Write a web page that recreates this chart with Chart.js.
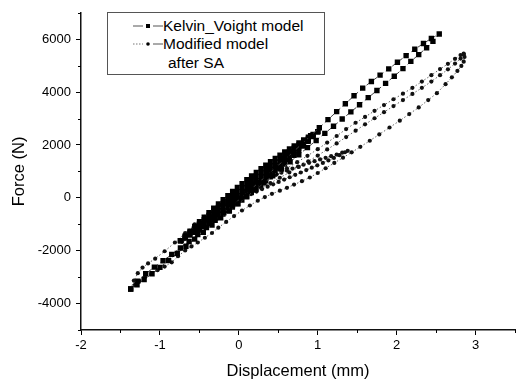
<!DOCTYPE html>
<html><head><meta charset="utf-8">
<script src="https://cdn.jsdelivr.net/npm/chart.js@4.4.0/dist/chart.umd.min.js"></script>
<style>
html,body{margin:0;padding:0;background:#fff;}
#wrap{position:relative;width:523px;height:382px;overflow:hidden;}
canvas{position:absolute;left:0;top:0;}
#legend{position:absolute;left:107px;top:12px;width:218px;height:63px;border:1px solid #555;box-sizing:border-box;background:#fff;font-family:"Liberation Sans",Arial,sans-serif;font-size:15.5px;color:#000;}
.row{position:absolute;height:18px;line-height:18px;white-space:nowrap;}
.smp{position:absolute;left:24px;width:32px;height:8px;}
</style></head>
<body><div id="wrap"><canvas id="c" width="523" height="382"></canvas>
<div id="legend">
 <svg class="smp" style="top:9px" width="32" height="8" viewBox="0 0 32 8"><line x1="1" y1="4" x2="11" y2="4" stroke="#555" stroke-width="1"/><rect x="14" y="2" width="4" height="4" fill="#000"/><line x1="21" y1="4" x2="31" y2="4" stroke="#555" stroke-width="1"/></svg>
 <div class="row" style="left:55px;top:4px">Kelvin_Voight model</div>
 <svg class="smp" style="top:27px" width="32" height="8" viewBox="0 0 32 8"><line x1="1" y1="4" x2="11" y2="4" stroke="#777" stroke-width="1" stroke-dasharray="1.5,1.5"/><circle cx="16" cy="4" r="1.8" fill="#000"/><line x1="21" y1="4" x2="31" y2="4" stroke="#555" stroke-width="1"/></svg>
 <div class="row" style="left:55px;top:22px">Modified model</div>
 <div class="row" style="left:60px;top:41px">after SA</div>
</div></div>
<script>
// ---- Kelvin_Voight model, large loop ----
const kvLargeUpX = [-1.37,-1.28,-1.18,-1.07,-0.96,-0.85,-0.74,-0.63,-0.52,-0.41,-0.30,-0.19,-0.08,0.03,0.14,0.25,0.36,0.47,0.58,0.69,0.80,0.91,1.02,1.13,1.24,1.35,1.46,1.57,1.68,1.79,1.90,2.01,2.12,2.23,2.34,2.44,2.54];
const kvLargeUpY = [-3450,-3150,-2870,-2620,-2380,-2140,-1900,-1650,-1390,-1120,-850,-570,-290,0,290,570,860,1150,1440,1740,2040,2350,2650,2960,3260,3560,3860,4150,4400,4640,4880,5130,5380,5620,5840,6030,6200];
const kvLargeDownX = [2.46,2.38,2.28,2.18,2.08,1.97,1.86,1.75,1.64,1.53,1.42,1.31,1.20,1.09,0.98,0.87,0.76,0.65,0.54,0.43,0.32,0.21,0.10,-0.01,-0.12,-0.23,-0.34,-0.45,-0.56,-0.67,-0.78,-0.89,-1.00,-1.10,-1.20,-1.29,-1.37];
const kvLargeDownY = [5920,5680,5420,5160,4890,4600,4330,4060,3790,3520,3250,2980,2710,2440,2170,1900,1630,1360,1090,830,570,300,40,-230,-500,-760,-1030,-1300,-1560,-1830,-2100,-2370,-2630,-2870,-3090,-3290,-3450];
// ---- Kelvin_Voight model, small (dense) loops: shared displacement grid, several force passes ----
const kvSmallX = [-0.74,-0.68,-0.62,-0.56,-0.50,-0.44,-0.38,-0.32,-0.26,-0.20,-0.14,-0.08,-0.02,0.04,0.10,0.16,0.22,0.28,0.34,0.40,0.46,0.52,0.58,0.64,0.70,0.76,0.82,0.88,0.94,1.00];
const kvSmallUpY = [-1620,-1435,-1254,-1075,-900,-727,-557,-391,-227,-67,90,244,396,544,689,831,970,1106,1238,1369,1496,1620,1740,1858,1973,2084,2193,2298,2401,2500];
const kvSmallLoY = [-1620,-1521,-1418,-1313,-1204,-1093,-977,-859,-739,-615,-488,-358,-226,-90,49,191,336,485,636,791,948,1108,1272,1438,1607,1780,1955,2134,2315,2500];
const kvSmallHiY = [-1620,-1457,-1295,-1135,-976,-819,-662,-508,-355,-204,-54,94,240,385,529,671,811,950,1088,1225,1359,1492,1623,1753,1881,2008,2133,2257,2379,2500];
const kvSmallMidLoY = [-1620,-1499,-1377,-1253,-1128,-1001,-872,-742,-611,-478,-344,-208,-70,69,209,351,495,640,786,935,1085,1236,1389,1543,1699,1856,2015,2175,2337,2500];
const kvSmallMidY = [-1620,-1478,-1336,-1194,-1052,-910,-767,-625,-483,-341,-199,-57,85,227,369,511,653,795,937,1080,1222,1364,1506,1648,1790,1932,2074,2216,2358,2500];
// ---- Modified model after SA, large loop ----
const modLargeUpX = [-1.37,-1.33,-1.28,-1.22,-1.15,-1.06,-0.94,-0.81,-0.68,-0.56,-0.43,-0.30,-0.17,-0.04,0.09,0.22,0.35,0.48,0.61,0.74,0.87,1.00,1.12,1.24,1.36,1.48,1.60,1.72,1.84,1.96,2.08,2.20,2.32,2.44,2.55,2.65,2.74,2.81,2.85];
const modLargeUpY = [-3450,-3130,-2850,-2640,-2480,-2300,-2020,-1690,-1330,-1000,-720,-480,-250,-20,200,430,660,890,1120,1350,1590,1840,2090,2340,2600,2840,3060,3290,3510,3730,3940,4160,4400,4640,4870,5070,5260,5400,5460];
const modLargeDownX = [2.86,2.85,2.82,2.77,2.70,2.62,2.51,2.40,2.28,2.16,2.04,1.91,1.78,1.66,1.54,1.43,1.32,1.21,1.10,1.00,0.90,0.80,0.70,0.61,0.52,0.42,0.33,0.24,0.14,0.04,-0.06,-0.16,-0.26,-0.34,-0.43,-0.52,-0.60,-0.68,-0.77,-0.85,-0.94,-1.03,-1.11,-1.19,-1.26,-1.32,-1.37];
const modLargeDownY = [5330,5150,4990,4800,4560,4300,3960,3700,3420,3170,2920,2660,2400,2160,1930,1720,1520,1320,1120,940,770,630,500,380,270,150,30,-110,-290,-480,-690,-910,-1130,-1330,-1510,-1690,-1840,-1990,-2210,-2440,-2600,-2740,-2870,-3000,-3150,-3300,-3450];
const modSecondX = [0.16,0.28,0.40,0.52,0.64,0.76,0.88,1.00,1.12,1.24,1.36,1.48,1.60,1.72,1.84,1.96,2.08,2.20,2.32,2.44,2.55,2.65,2.74,2.81,2.85];
const modSecondY = [200,380,560,760,960,1170,1380,1600,1830,2060,2300,2540,2780,3010,3240,3470,3700,3930,4160,4400,4640,4860,5080,5270,5420];
// ---- Modified model after SA, small (dense) loop ----
const modSmallUpX = [-0.72,-0.65,-0.58,-0.51,-0.44,-0.37,-0.30,-0.23,-0.16,-0.09,-0.02,0.05,0.12,0.19,0.26,0.33,0.40,0.47,0.54,0.61,0.68,0.75,0.82,0.89,0.96,1.03,1.10,1.17,1.24,1.31,1.38];
const modSmallUpY = [-1650,-1422,-1196,-972,-782,-599,-418,-266,-115,31,158,284,402,503,603,698,784,870,952,1031,1108,1182,1253,1323,1388,1452,1514,1577,1639,1709,1780];
const modSmallDownX = [1.345,1.275,1.205,1.135,1.065,0.995,0.925,0.855,0.785,0.715,0.645,0.575,0.505,0.435,0.365,0.295,0.225,0.155,0.085,0.015,-0.055,-0.125,-0.195,-0.265,-0.335,-0.405,-0.475,-0.545,-0.615,-0.685,-0.72];
const modSmallDownY = [1724,1613,1510,1414,1320,1229,1140,1049,959,869,779,689,600,511,422,332,237,142,40,-70,-182,-301,-430,-558,-700,-854,-1009,-1182,-1370,-1557,-1650];
// ---- axes ----
const xMin = -2, xMax = 3.5, xStep = 0.5;
const yMin = -5000, yMax = 7000, yStep = 1000;
const xTickLabels = ['-2','-1','0','1','2','3'];
const yTickLabels = ['-4000','-2000','0','2000','4000','6000'];

const pts = (xs, ys) => xs.map((x, i) => ({x: x, y: ys[i]}));
const rev = (a) => a.slice().reverse();
const FONT = '"Liberation Sans", Arial, Helvetica, sans-serif';

const kvStyle = {showLine:true, borderColor:'#444', borderWidth:1, borderDash:[5,3], pointStyle:'rect', pointBackgroundColor:'#000', pointBorderColor:'#000', pointBorderWidth:0};
const modStyle = {showLine:true, borderColor:'#666', borderWidth:1, borderDash:[1.5,2], pointStyle:'circle', pointBackgroundColor:'#111', pointBorderColor:'#111', pointBorderWidth:0};

const isMajorX = (v) => Math.abs(v - Math.round(v)) < 1e-6;
const isMajorY = (v) => Math.abs(v / 2000 - Math.round(v / 2000)) < 1e-6;

const minorTicks = {
  id: 'minorTicks',
  afterDraw(chart) {
    const ctx = chart.ctx, xs = chart.scales.x, ys = chart.scales.y;
    ctx.save();
    ctx.strokeStyle = '#000';
    ctx.lineWidth = 1;
    ctx.beginPath();
    xs.ticks.forEach(t => { if (!isMajorX(t.value)) { const p = Math.round(xs.getPixelForValue(t.value)) + 0.5; ctx.moveTo(p, xs.top); ctx.lineTo(p, xs.top + 3); } });
    ys.ticks.forEach(t => { if (!isMajorY(t.value)) { const p = Math.round(ys.getPixelForValue(t.value)) + 0.5; ctx.moveTo(ys.right, p); ctx.lineTo(ys.right - 3, p); } });
    ctx.stroke();
    ctx.restore();
  }
};

new Chart(document.getElementById('c'), {
  type: 'scatter',
  data: { datasets: [
    Object.assign({label:'Kelvin_Voight model', data: pts(kvLargeUpX.concat(kvLargeDownX), kvLargeUpY.concat(kvLargeDownY)), pointRadius:3.8}, kvStyle),
    Object.assign({label:'Kelvin_Voight model (small a)', data: pts(kvSmallX.concat(rev(kvSmallX)), kvSmallUpY.concat(rev(kvSmallLoY))), pointRadius:3.6}, kvStyle),
    Object.assign({label:'Kelvin_Voight model (small b)', data: pts(kvSmallX.concat(rev(kvSmallX)), kvSmallHiY.concat(rev(kvSmallMidLoY))), pointRadius:3.6}, kvStyle),
    Object.assign({label:'Kelvin_Voight model (small c)', data: pts(kvSmallX, kvSmallMidY), pointRadius:3.6}, kvStyle),
    Object.assign({label:'Modified model after SA', data: pts(modLargeUpX.concat(modLargeDownX), modLargeUpY.concat(modLargeDownY)), pointRadius:2.1}, modStyle),
    Object.assign({label:'Modified model after SA (2)', data: pts(modSecondX, modSecondY), pointRadius:2.1}, modStyle),
    Object.assign({label:'Modified model after SA (small)', data: pts(modSmallUpX.concat(modSmallDownX), modSmallUpY.concat(modSmallDownY)), pointRadius:2.1}, modStyle)
  ]},
  options: {
    responsive:false, animation:false, devicePixelRatio:1,
    layout:{padding:{left:0, right:8, top:11, bottom:0}},
    plugins:{legend:{display:false}, tooltip:{enabled:false}},
    scales:{
      x:{type:'linear', min:xMin, max:xMax,
        ticks:{stepSize:xStep, autoSkip:false, maxRotation:0, color:'#000', font:{family:FONT, size:13}, padding:3,
          callback:(v)=>{ const r=Math.round(v); return (isMajorX(v) && xTickLabels.includes(String(r))) ? String(r) : ''; }},
        grid:{drawOnChartArea:false, drawTicks:true, tickLength:5, color:'#000', lineWidth:1,
          tickColor:(c)=> (c.tick && isMajorX(c.tick.value)) ? '#000' : 'rgba(0,0,0,0)'},
        border:{display:true, color:'#111', width:1.5},
        title:{display:true, text:'Displacement (mm)', color:'#000', font:{family:FONT, size:16.5}, padding:{top:5, bottom:1}},
        afterFit:(s)=>{ s.height = 52; }
      },
      y:{type:'linear', min:yMin, max:yMax,
        ticks:{stepSize:yStep, autoSkip:false, color:'#000', font:{family:FONT, size:13}, padding:5,
          callback:(v)=>{ const s=String(Math.round(v)); return yTickLabels.includes(s) ? s : ''; }},
        grid:{drawOnChartArea:false, drawTicks:true, tickLength:5, color:'#000', lineWidth:1,
          tickColor:(c)=> (c.tick && isMajorY(c.tick.value)) ? '#000' : 'rgba(0,0,0,0)'},
        border:{display:true, color:'#111', width:1.5},
        title:{display:true, text:'Force (N)', color:'#000', font:{family:FONT, size:16.5}, padding:{top:10, bottom:4}},
        afterFit:(s)=>{ s.width = 81; }
      }
    }
  },
  plugins:[minorTicks]
});
</script>
</body></html>
